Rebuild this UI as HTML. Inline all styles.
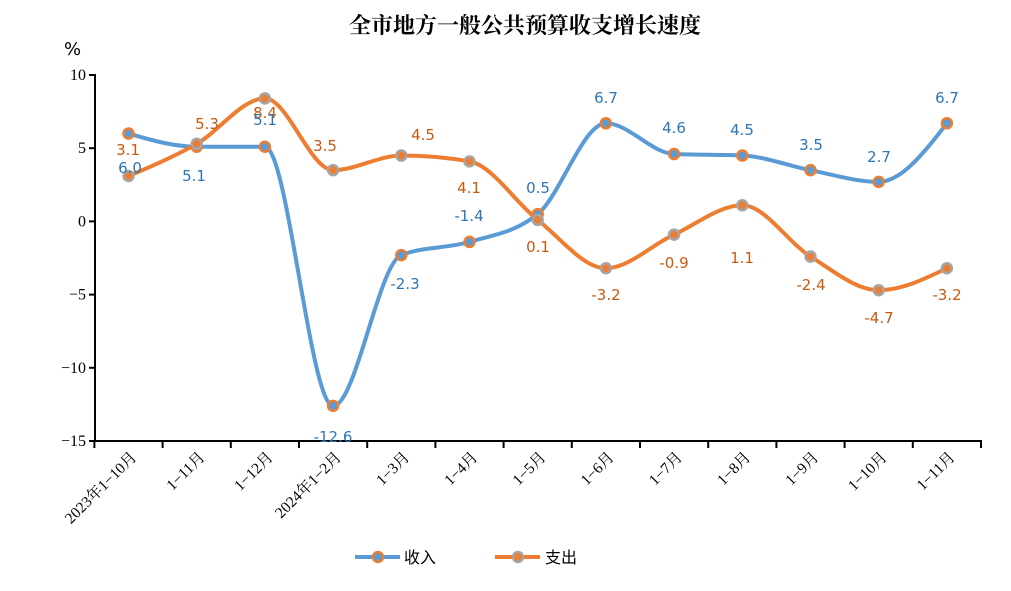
<!DOCTYPE html>
<html><head><meta charset="utf-8"><style>
body{margin:0;background:#fff;}
svg{display:block;}
.tk{font-family:"Liberation Serif","Noto Serif CJK SC",serif;font-size:15.5px;fill:#000;}
.yt{font-family:"Liberation Serif",serif;font-size:16px;fill:#000;}
.dl{font-family:"DejaVu Sans","Liberation Sans",sans-serif;font-size:15px;text-anchor:middle;dominant-baseline:central;}
</style></head><body>
<svg id="s" width="1011" height="591" viewBox="0 0 1011 591" xmlns="http://www.w3.org/2000/svg">
<text x="525" y="33" text-anchor="middle" style="font-family:'Liberation Serif','Noto Serif CJK SC',serif;font-size:22px;font-weight:bold">全市地方一般公共预算收支增长速度</text>
<text x="64" y="55" style="font-family:'DejaVu Sans',sans-serif;font-size:18px">%</text>
<g id="axes" stroke="#000" stroke-width="2" fill="none"></g>
<g id="lines"></g>
<g id="labels"></g>
<line x1="355" y1="557" x2="400" y2="557" stroke="#5b9bd5" stroke-width="4"/>
<circle cx="378" cy="557" r="5" fill="#5b9bd5" stroke="#ed7d31" stroke-width="2.5"/>
<text x="404" y="563" style="font-family:'Liberation Sans','Noto Sans CJK SC',sans-serif;font-size:16px">收入</text>
<line x1="495" y1="557" x2="540" y2="557" stroke="#ed7d31" stroke-width="4"/>
<circle cx="518" cy="557" r="5" fill="#ed7d31" stroke="#a5a5a5" stroke-width="2.5"/>
<text x="545" y="563" style="font-family:'Liberation Sans','Noto Sans CJK SC',sans-serif;font-size:16px">支出</text>
</svg>
<script>
var NS="http://www.w3.org/2000/svg";
function el(t,a,p,txt){var e=document.createElementNS(NS,t);for(var k in a)e.setAttribute(k,a[k]);if(txt!=null)e.textContent=txt;p.appendChild(e);return e;}
var Y=function(v){return 221.4-v*14.64;};
var X=function(i){return 128.5+i*68.2;};
var ax=document.getElementById('axes');
el('line',{x1:95,y1:74,x2:95,y2:442},ax);
el('line',{x1:94,y1:441,x2:982,y2:441},ax);
var s=document.getElementById('s');
[10,5,0,-5,-10,-15].forEach(function(v){var y=Y(v);el('line',{x1:89,y1:y,x2:95,y2:y},ax);
el('text',{x:86,y:y+5,'text-anchor':'end','class':'yt'},s,v<0?'\u2212'+(-v):''+v);});
for(var i=0;i<=13;i++){var x=94.4+i*68.2;el('line',{x1:x,y1:441,x2:x,y2:448},ax);}
var cats=['2023年1−10月','1−11月','1−12月','2024年1−2月','1−3月','1−4月','1−5月','1−6月','1−7月','1−8月','1−9月','1−10月','1−11月'];
cats.forEach(function(c,i){var x=X(i)+9,y=458;el('text',{x:x,y:y,'text-anchor':'end','class':'tk',transform:'rotate(-45 '+x+' '+y+')'},s,c);});
var inc=[6.0,5.1,5.1,-12.6,-2.3,-1.4,0.5,6.7,4.6,4.5,3.5,2.7,6.7];
var exp=[3.1,5.3,8.4,3.5,4.5,4.1,0.1,-3.2,-0.9,1.1,-2.4,-4.7,-3.2];
function path(d){var n=d.length,x=d.map(function(v,i){return X(i);}),y=d.map(Y),h=68.2;
var sl=[];for(var i=0;i<n-1;i++)sl.push((y[i+1]-y[i])/h);
var m=[];for(var i=0;i<n;i++){
 if(i==0||i==n-1)continue;
 var s0=sl[i-1],s1=sl[i];
 if(s0*s1<=0)m[i]=0;else{var p=(s0+s1)/2;m[i]=(Math.sign(s0)+Math.sign(s1))*Math.min(Math.abs(s0),Math.abs(s1),0.5*Math.abs(p));}}
m[0]=(3*sl[0]-m[1])/2; m[n-1]=(3*sl[n-2]-m[n-2])/2;
var p='M'+x[0]+' '+y[0];
for(var i=0;i<n-1;i++){var dx=h/3;p+=' C'+(x[i]+dx)+' '+(y[i]+dx*m[i])+' '+(x[i+1]-dx)+' '+(y[i+1]-dx*m[i+1])+' '+x[i+1]+' '+y[i+1];}
return p;}
var L=document.getElementById('lines');
el('path',{d:path(inc),fill:'none',stroke:'#5b9bd5','stroke-width':4},L);
el('path',{d:path(exp),fill:'none',stroke:'#ed7d31','stroke-width':4},L);
inc.forEach(function(v,i){el('circle',{cx:X(i),cy:Y(v),r:5,fill:'#5b9bd5',stroke:'#ed7d31','stroke-width':2.5},L);});
exp.forEach(function(v,i){el('circle',{cx:X(i),cy:Y(v),r:5,fill:'#ed7d31',stroke:'#a5a5a5','stroke-width':2.5},L);});
var lb=document.getElementById('labels');
var bl=[[130,168],[194,176],[265,120],[333,437],[405,284],[469,216],[538,188],[606,98],[674,128],[742,130],[811,145],[879,157],[947,98]];
var ol=[[128,150],[207,124],[265,113],[325,146],[423,135],[469,188],[538,247],[606,295],[674,263],[742,258],[811,285],[879,318],[947,295]];
exp.forEach(function(v,i){el('text',{x:ol[i][0],y:ol[i][1],'class':'dl',fill:'#c55a11'},lb,v.toFixed(1));});
inc.forEach(function(v,i){el('text',{x:bl[i][0],y:bl[i][1],'class':'dl',fill:'#2e75b6'},lb,v.toFixed(1));});
</script>
</body></html>
